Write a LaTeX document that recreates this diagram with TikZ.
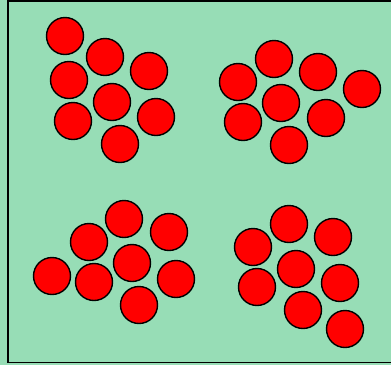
\documentclass[tikz,border=0pt]{standalone}
\definecolor{bg}{RGB}{151,221,182}
\definecolor{ball}{RGB}{255,0,0}
\tikzset{ballnode/.style={circle,draw=black,line width=1.4pt,fill=ball,minimum size=37pt,inner sep=0pt}}
\begin{document}
\begin{tikzpicture}[x=1pt,y=-1pt]
\fill[bg] (0,0) rectangle (391,365);
\useasboundingbox (0,0) rectangle (391,365);
\draw[line width=1.8pt,line join=miter] (400,0.8) -- (8,0.8) -- (8,362.5) -- (400,362.5);
% group 1
\foreach \i/\x/\y in {a1/65/36,a2/105/57,a3/149/71,a4/69/80,a5/112/102,a6/156/117,a7/73/121,a8/120/144}
  \node[ballnode] (\i) at (\x,\y) {};
% group 2
\foreach \i/\x/\y in {b1/274/59,b2/238/82,b3/318/72,b4/362/89,b5/281/103,b6/243/122,b7/326/118,b8/289/145}
  \node[ballnode] (\i) at (\x,\y) {};
% group 3
\foreach \i/\x/\y in {c1/124/219,c2/169/232,c3/89/242,c4/132/263,c5/52/276,c6/94/282,c7/176/279,c8/139/305}
  \node[ballnode] (\i) at (\x,\y) {};
% group 4
\foreach \i/\x/\y in {d1/289/224,d2/333/237,d3/253/247,d4/296/269,d5/257/287,d6/340/283,d7/303/310,d8/345/329}
  \node[ballnode] (\i) at (\x,\y) {};
\end{tikzpicture}
\end{document}
